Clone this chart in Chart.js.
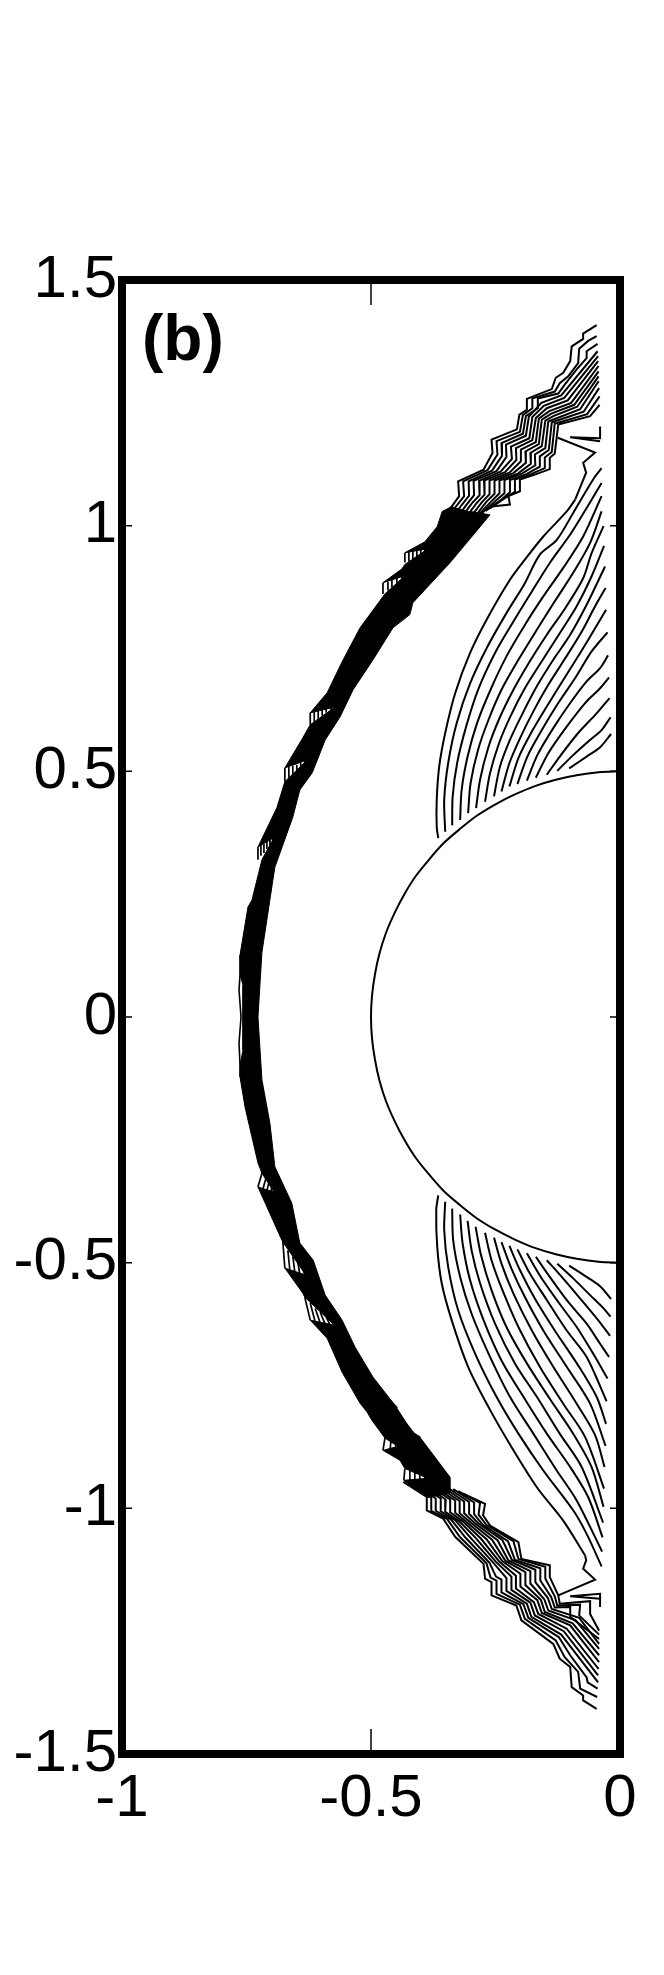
<!DOCTYPE html>
<html>
<head>
<meta charset="utf-8">
<style>
  body { margin: 0; background: #fff; }
  canvas { display: block; }
</style>
<script src="https://cdn.jsdelivr.net/npm/chart.js@4"></script>
</head>
<body>
<canvas id="contourChart" width="664" height="1975"></canvas>
<script>
// ── Data ──────────────────────────────────────────────────────
const xTicks = [-1, -0.5, 0];
const yTicks = [-1.5, -1, -0.5, 0, 0.5, 1, 1.5];
const panelLabel = '(b)';

// body surface
const bodyCircle = [
  [0,.5],[-.043,.498],[-.087,.492],[-.129,.483],[-.171,.47],[-.211,.453],[-.25,.433],[-.287,.41],[-.321,.383],[-.354,.354],
  [-.383,.321],[-.41,.287],[-.433,.25],[-.453,.211],[-.47,.171],[-.483,.129],[-.492,.087],[-.498,.043],[-.5,0],
  [-.498,-.043],[-.492,-.087],[-.483,-.129],[-.47,-.171],[-.453,-.211],[-.433,-.25],[-.41,-.287],[-.383,-.321],[-.354,-.354],
  [-.321,-.383],[-.287,-.41],[-.25,-.433],[-.211,-.453],[-.171,-.47],[-.129,-.483],[-.087,-.492],[-.043,-.498],[0,-.5]
];

// merged part of the shock, where the contours run together
const shockBand = [
  [-.337,1.039],[-.357,1.029],[-.367,.998],[-.392,.967],[-.432,.945],[-.386,.953],[-.432,.921],[-.438,.912],[-.476,.884],[-.432,.898],
  [-.472,.861],[-.522,.792],[-.558,.723],[-.588,.66],[-.622,.619],[-.572,.631],[-.622,.595],[-.637,.568],[-.673,.507],[-.628,.523],
  [-.673,.479],[-.689,.426],[-.727,.346],[-.695,.365],[-.719,.32],[-.739,.238],[-.747,.224],[-.763,.126],[-.763,.086],[-.757,.065],
  [-.757,-.067],[-.763,-.098],[-.763,-.122],[-.753,-.183],[-.727,-.297],[-.719,-.318],[-.695,-.356],[-.727,-.346],[-.679,-.454],[-.677,-.458],
  [-.631,-.525],[-.673,-.511],[-.637,-.562],[-.633,-.57],[-.574,-.627],[-.622,-.617],[-.588,-.654],[-.558,-.723],[-.522,-.786],[-.508,-.804],
  [-.498,-.821],[-.472,-.857],[-.446,-.874],[-.476,-.882],[-.442,-.902],[-.432,-.919],[-.386,-.939],[-.434,-.943],[-.386,-.978],[-.341,-.969],
  [-.341,-.937],[-.402,-.855],[-.416,-.847],[-.452,-.79],[-.496,-.733],[-.532,-.672],[-.558,-.617],[-.592,-.566],[-.616,-.495],[-.643,-.46],
  [-.659,-.379],[-.693,-.305],[-.703,-.216],[-.719,-.128],[-.727,0],[-.719,.132],[-.697,.279],[-.693,.305],[-.657,.407],[-.643,.462],
  [-.618,.497],[-.592,.564],[-.562,.611],[-.536,.666],[-.496,.727],[-.456,.792],[-.422,.819],[-.416,.843],[-.341,.925],[-.261,1.022],[-.301,1.029]
];
const shockNose = [[-.763,.086],[-.765,.055],[-.761,0],[-.765,-.053],[-.763,-.098]];
const shockStray = [[-.462,-.78],[-.448,-.794],[-.45,-.8],[-.414,-.847],[-.402,-.855],[-.404,-.863],[-.361,-.922]];

// short contour pieces showing through at the kinks of the shock
const kinkTicks = [
  [[-.432,.945],[-.432,.925]],[[-.424,.947],[-.424,.927]],[[-.416,.949],[-.416,.929]],[[-.408,.951],[-.408,.933]],[[-.4,.953],[-.4,.935]],[[-.392,.957],[-.392,.939]],
  [[-.476,.884],[-.476,.861]],[[-.466,.886],[-.466,.868]],[[-.458,.89],[-.458,.874]],[[-.448,.894],[-.448,.88]],[[-.438,.896],[-.438,.886]],
  [[-.622,.619],[-.622,.595]],[[-.614,.621],[-.614,.601]],[[-.606,.623],[-.606,.607]],[[-.598,.625],[-.598,.613]],[[-.59,.627],[-.59,.619]],[[-.58,.629],[-.58,.623]],
  [[-.673,.507],[-.673,.479]],[[-.665,.509],[-.665,.487]],[[-.657,.511],[-.657,.493]],[[-.649,.513],[-.649,.501]],[[-.641,.517],[-.641,.507]],[[-.633,.521],[-.633,.515]],
  [[-.727,.346],[-.727,.32]],[[-.721,.35],[-.721,.328]],[[-.715,.352],[-.715,.334]],[[-.709,.356],[-.709,.342]],[[-.703,.36],[-.703,.35]],[[-.697,.365],[-.697,.358]],
  [[-.719,-.318],[-.727,-.346]],[[-.711,-.328],[-.717,-.35]],[[-.705,-.336],[-.709,-.354]],[[-.699,-.344],[-.701,-.356]],
  [[-.677,-.458],[-.673,-.511]],[[-.667,-.475],[-.663,-.515]],[[-.657,-.487],[-.653,-.519]],[[-.647,-.499],[-.643,-.523]],[[-.637,-.511],[-.633,-.525]],
  [[-.633,-.57],[-.622,-.617]],[[-.622,-.582],[-.612,-.621]],[[-.612,-.593],[-.602,-.623]],[[-.602,-.601],[-.592,-.625]],[[-.59,-.611],[-.582,-.627]],
  [[-.472,-.857],[-.476,-.882]],[[-.46,-.862],[-.462,-.886]],[[-.45,-.87],[-.452,-.89]],
  [[-.432,-.919],[-.434,-.943]],[[-.422,-.923],[-.422,-.943]],[[-.412,-.927],[-.412,-.943]],[[-.402,-.931],[-.402,-.943]],[[-.392,-.935],[-.392,-.943]]
];

// separated contours, upper tip of the shock
const shockTop = [
  [[-.047,1.408],[-.074,1.391],[-.074,1.38],[-.097,1.365],[-.1,1.335],[-.114,1.311],[-.129,1.301],[-.137,1.278],[-.187,1.258],[-.187,1.236],[-.202,1.226],[-.207,1.196],[-.258,1.175],[-.256,1.148],[-.274,1.114],[-.325,1.09],[-.323,1.06],[-.338,1.039],[-.35,1.025]],
  [[-.047,1.386],[-.064,1.376],[-.082,1.36],[-.084,1.331],[-.104,1.304],[-.121,1.29],[-.131,1.273],[-.176,1.259],[-.176,1.239],[-.195,1.225],[-.201,1.191],[-.248,1.172],[-.246,1.145],[-.266,1.113],[-.315,1.09],[-.313,1.06],[-.328,1.041],[-.342,1.022]],
  [[-.045,1.37],[-.067,1.355],[-.067,1.341],[-.087,1.318],[-.111,1.287],[-.124,1.269],[-.165,1.259],[-.165,1.239],[-.189,1.223],[-.195,1.187],[-.238,1.168],[-.237,1.142],[-.257,1.112],[-.304,1.09],[-.303,1.061],[-.318,1.042],[-.334,1.02]],
  [[-.045,1.355],[-.118,1.265],[-.158,1.25],[-.183,1.222],[-.189,1.183],[-.229,1.165],[-.228,1.14],[-.248,1.111],[-.294,1.091],[-.293,1.062],[-.308,1.043],[-.326,1.018]],
  [[-.044,1.345],[-.112,1.26],[-.153,1.244],[-.176,1.221],[-.182,1.178],[-.219,1.161],[-.217,1.136],[-.24,1.11],[-.283,1.091],[-.282,1.062],[-.298,1.045],[-.318,1.017]],
  [[-.044,1.335],[-.105,1.255],[-.147,1.239],[-.169,1.219],[-.176,1.174],[-.209,1.158],[-.208,1.134],[-.231,1.109],[-.273,1.092],[-.272,1.063],[-.288,1.046],[-.31,1.016]],
  [[-.043,1.325],[-.098,1.25],[-.142,1.233],[-.163,1.218],[-.169,1.17],[-.199,1.155],[-.199,1.131],[-.222,1.108],[-.262,1.092],[-.262,1.064],[-.278,1.047],[-.302,1.015]],
  [[-.043,1.314],[-.092,1.246],[-.138,1.228],[-.157,1.216],[-.163,1.166],[-.19,1.151],[-.189,1.128],[-.214,1.107],[-.252,1.092],[-.252,1.065],[-.268,1.049],[-.294,1.015]],
  [[-.043,1.304],[-.086,1.242],[-.134,1.223],[-.15,1.214],[-.157,1.162],[-.18,1.148],[-.179,1.126],[-.205,1.106],[-.242,1.092],[-.242,1.066],[-.258,1.05],[-.286,1.02]],
  [[-.043,1.294],[-.08,1.237],[-.131,1.217],[-.144,1.212],[-.15,1.158],[-.171,1.145],[-.17,1.123],[-.197,1.106],[-.232,1.093],[-.232,1.066],[-.248,1.052],[-.278,1.025]],
  [[-.042,1.28],[-.073,1.232],[-.129,1.213],[-.137,1.21],[-.143,1.154],[-.161,1.141],[-.161,1.12],[-.188,1.105],[-.221,1.093],[-.221,1.068],[-.238,1.053],[-.27,1.03]],
  [[-.041,1.263],[-.066,1.227],[-.126,1.209],[-.131,1.208],[-.137,1.15],[-.151,1.139],[-.151,1.117],[-.179,1.105],[-.211,1.094],[-.211,1.069],[-.231,1.056],[-.262,1.035]],
  [[-.041,1.246],[-.06,1.223],[-.124,1.206],[-.131,1.147],[-.141,1.138],[-.141,1.115],[-.171,1.104],[-.201,1.094],[-.201,1.07],[-.224,1.06],[-.221,1.043],[-.258,1.039]]
];
const stubTop = [[-.04,1.202],[-.04,1.178],[-.1,1.18],[-.04,1.172]];

// separated contours, lower tip of the shock
const shockBottom = [
  [[-.435,-.946],[-.388,-.977],[-.388,-1.004],[-.355,-1.021],[-.331,-1.058],[-.274,-1.113],[-.271,-1.143],[-.258,-1.15],[-.258,-1.177],[-.208,-1.198],[-.198,-1.228],[-.134,-1.276],[-.121,-1.306],[-.1,-1.323],[-.097,-1.364],[-.074,-1.381],[-.074,-1.391],[-.047,-1.408]],
  [[-.425,-.948],[-.379,-.978],[-.379,-1.005],[-.347,-1.022],[-.321,-1.059],[-.268,-1.112],[-.26,-1.141],[-.248,-1.147],[-.248,-1.174],[-.201,-1.196],[-.191,-1.225],[-.129,-1.269],[-.111,-1.303],[-.084,-1.333],[-.08,-1.367],[-.046,-1.384]],
  [[-.415,-.949],[-.37,-.98],[-.37,-1.005],[-.339,-1.023],[-.31,-1.06],[-.262,-1.111],[-.249,-1.139],[-.238,-1.145],[-.238,-1.171],[-.194,-1.195],[-.184,-1.223],[-.123,-1.262],[-.1,-1.299],[-.067,-1.344],[-.065,-1.354],[-.045,-1.367]],
  [[-.405,-.95],[-.36,-.98],[-.36,-1.006],[-.331,-1.024],[-.3,-1.06],[-.255,-1.11],[-.228,-1.142],[-.228,-1.168],[-.187,-1.194],[-.178,-1.221],[-.118,-1.257],[-.044,-1.354]],
  [[-.395,-.952],[-.35,-.982],[-.351,-1.007],[-.323,-1.026],[-.289,-1.061],[-.249,-1.109],[-.218,-1.139],[-.218,-1.166],[-.18,-1.192],[-.171,-1.218],[-.113,-1.25],[-.044,-1.34]],
  [[-.385,-.953],[-.341,-.982],[-.341,-1.008],[-.315,-1.027],[-.279,-1.062],[-.242,-1.109],[-.209,-1.137],[-.209,-1.163],[-.173,-1.191],[-.164,-1.215],[-.107,-1.245],[-.043,-1.327]],
  [[-.375,-.955],[-.331,-.984],[-.331,-1.009],[-.308,-1.028],[-.268,-1.063],[-.236,-1.108],[-.2,-1.133],[-.2,-1.159],[-.166,-1.187],[-.157,-1.213],[-.1,-1.238],[-.042,-1.313]],
  [[-.365,-.956],[-.322,-.985],[-.322,-1.01],[-.3,-1.029],[-.257,-1.064],[-.23,-1.107],[-.19,-1.13],[-.19,-1.156],[-.159,-1.186],[-.151,-1.211],[-.095,-1.234],[-.042,-1.299]],
  [[-.355,-.957],[-.313,-.986],[-.313,-1.01],[-.292,-1.03],[-.246,-1.065],[-.224,-1.106],[-.18,-1.128],[-.18,-1.153],[-.152,-1.185],[-.144,-1.208],[-.089,-1.228],[-.042,-1.286]],
  [[-.345,-.959],[-.303,-.987],[-.303,-1.011],[-.284,-1.031],[-.236,-1.065],[-.217,-1.105],[-.17,-1.125],[-.17,-1.15],[-.145,-1.182],[-.137,-1.205],[-.082,-1.223],[-.042,-1.276]],
  [[-.335,-.961],[-.293,-.988],[-.293,-1.012],[-.276,-1.033],[-.225,-1.067],[-.211,-1.105],[-.16,-1.122],[-.16,-1.147],[-.138,-1.181],[-.131,-1.202],[-.1,-1.201],[-.1,-1.221],[-.042,-1.266]],
  [[-.325,-.965],[-.281,-.989],[-.284,-1.013],[-.268,-1.034],[-.214,-1.067],[-.204,-1.103],[-.15,-1.119],[-.15,-1.143],[-.131,-1.179],[-.126,-1.198],[-.08,-1.196],[-.082,-1.218],[-.042,-1.257]],
  [[-.315,-.97],[-.271,-.991],[-.275,-1.014],[-.261,-1.035],[-.204,-1.069],[-.198,-1.103],[-.141,-1.116],[-.141,-1.14],[-.124,-1.177],[-.121,-1.194],[-.06,-1.189],[-.06,-1.215],[-.042,-1.249]]
];
const stubBottom = [[-.04,-1.201],[-.04,-1.174],[-.1,-1.179],[-.04,-1.184]];

// fan of contours behind the shock, above the body
const fanTop = [
  [[-.365,.364],[-.368,.387],[-.368,.442],[-.363,.51],[-.351,.578],[-.331,.659],[-.301,.741],[-.266,.812],[-.221,.89],[-.191,.931],[-.154,.978],[-.107,1.029],[-.09,1.053]],
  [[-.351,.377],[-.353,.442],[-.345,.517],[-.328,.598],[-.301,.679],[-.266,.754],[-.228,.822],[-.191,.883],[-.161,.941],[-.127,.971],[-.094,1.026],[-.054,1.094],[-.037,1.117]],
  [[-.337,.39],[-.336,.449],[-.327,.517],[-.309,.591],[-.285,.666],[-.251,.741],[-.214,.805],[-.177,.866],[-.141,.924],[-.1,.982],[-.067,1.036],[-.037,1.087]],
  [[-.321,.401],[-.318,.462],[-.306,.53],[-.287,.598],[-.26,.666],[-.228,.734],[-.191,.798],[-.154,.856],[-.114,.914],[-.074,.978],[-.037,1.06]],
  [[-.305,.415],[-.3,.476],[-.285,.544],[-.264,.605],[-.238,.666],[-.204,.727],[-.167,.788],[-.131,.846],[-.094,.904],[-.06,.965],[-.037,1.029]],
  [[-.289,.425],[-.281,.483],[-.264,.55],[-.242,.608],[-.214,.666],[-.181,.724],[-.147,.778],[-.11,.832],[-.074,.893],[-.057,.944],[-.033,.999]],
  [[-.271,.438],[-.261,.496],[-.243,.557],[-.22,.612],[-.191,.669],[-.157,.724],[-.121,.781],[-.087,.836],[-.057,.897],[-.032,.959]],
  [[-.253,.449],[-.241,.51],[-.221,.564],[-.197,.615],[-.167,.673],[-.134,.727],[-.1,.778],[-.067,.839],[-.03,.917]],
  [[-.238,.459],[-.222,.517],[-.199,.571],[-.174,.622],[-.144,.676],[-.11,.73],[-.077,.784],[-.05,.836],[-.029,.873]],
  [[-.222,.469],[-.204,.527],[-.177,.581],[-.147,.632],[-.114,.686],[-.08,.741],[-.05,.791],[-.028,.829]],
  [[-.206,.474],[-.186,.53],[-.157,.584],[-.124,.639],[-.09,.69],[-.057,.744],[-.025,.783]],
  [[-.187,.481],[-.166,.533],[-.134,.588],[-.1,.639],[-.067,.683],[-.04,.71],[-.024,.736]],
  [[-.169,.487],[-.144,.537],[-.107,.591],[-.07,.639],[-.04,.669],[-.022,.691]],
  [[-.147,.493],[-.121,.53],[-.084,.578],[-.047,.618],[-.021,.649]],
  [[-.126,.501],[-.094,.533],[-.06,.564],[-.037,.584],[-.019,.61]],
  [[-.102,.506],[-.067,.53],[-.04,.549],[-.018,.576]]
];
const fanTopTail = [[-.09,1.053],[-.068,1.108],[-.074,1.128],[-.05,1.149],[-.125,1.179]];

// same fan, below the body
const fanBottom = [
  [[-.365,-.363],[-.369,-.393],[-.367,-.468],[-.358,-.542],[-.338,-.617],[-.305,-.712],[-.264,-.794],[-.218,-.875],[-.167,-.957],[-.114,-1.025],[-.07,-1.096]],
  [[-.351,-.376],[-.353,-.434],[-.345,-.509],[-.325,-.597],[-.291,-.685],[-.248,-.773],[-.204,-.848],[-.154,-.923],[-.094,-1.004],[-.067,-1.052],[-.037,-1.118]],
  [[-.337,-.39],[-.335,-.454],[-.321,-.529],[-.298,-.604],[-.264,-.685],[-.221,-.773],[-.174,-.848],[-.127,-.923],[-.087,-.984],[-.036,-1.088]],
  [[-.321,-.402],[-.316,-.461],[-.301,-.536],[-.274,-.617],[-.238,-.699],[-.194,-.773],[-.147,-.848],[-.1,-.916],[-.064,-.977],[-.035,-1.059]],
  [[-.306,-.415],[-.298,-.475],[-.281,-.542],[-.251,-.624],[-.211,-.705],[-.167,-.773],[-.121,-.848],[-.077,-.916],[-.034,-1.029]],
  [[-.29,-.427],[-.279,-.485],[-.258,-.556],[-.228,-.631],[-.187,-.705],[-.141,-.777],[-.094,-.848],[-.057,-.916],[-.033,-.997]],
  [[-.271,-.439],[-.258,-.495],[-.236,-.556],[-.204,-.631],[-.161,-.712],[-.114,-.787],[-.07,-.855],[-.032,-.96]],
  [[-.253,-.449],[-.238,-.502],[-.214,-.563],[-.177,-.638],[-.134,-.712],[-.087,-.787],[-.05,-.851],[-.031,-.916]],
  [[-.238,-.458],[-.218,-.512],[-.191,-.57],[-.154,-.638],[-.107,-.712],[-.06,-.787],[-.029,-.873]],
  [[-.222,-.466],[-.201,-.515],[-.171,-.573],[-.131,-.638],[-.084,-.709],[-.047,-.773],[-.028,-.828]],
  [[-.206,-.473],[-.181,-.522],[-.147,-.576],[-.107,-.638],[-.067,-.692],[-.027,-.782]],
  [[-.187,-.481],[-.161,-.526],[-.124,-.58],[-.087,-.631],[-.054,-.685],[-.025,-.736]],
  [[-.169,-.488],[-.141,-.529],[-.104,-.58],[-.067,-.624],[-.04,-.665],[-.022,-.692]],
  [[-.147,-.495],[-.117,-.529],[-.08,-.573],[-.044,-.617],[-.02,-.649]],
  [[-.126,-.502],[-.094,-.532],[-.06,-.566],[-.033,-.593],[-.019,-.61]],
  [[-.102,-.506],[-.067,-.529],[-.04,-.548],[-.018,-.574]]
];
const fanBottomTail = [[-.07,-1.096],[-.068,-1.106],[-.074,-1.123],[-.05,-1.145],[-.124,-1.177]];

// ── Datasets ──────────────────────────────────────────────────
const contour = (data, tension = 0, borderWidth = 2) => ({
  data,
  tension,
  borderWidth,
  borderColor: '#000',
  borderJoinStyle: 'miter',
  borderCapStyle: 'butt',
  pointRadius: 0,
  showLine: true,
  fill: false,
});

const datasets = [
  { ...contour(shockBand), backgroundColor: '#000', fill: 'shape', borderWidth: 1 },
  contour(shockNose, 0, 1.6),
  contour(shockStray, 0, 1.4),
  ...kinkTicks.map(d => contour(d, 0, 1.7)),
  ...shockTop.map(d => contour(d)),
  ...shockBottom.map(d => contour(d)),
  contour(stubTop),
  contour(stubBottom),
  ...fanTop.map(d => contour(d, 0.3)),
  ...fanBottom.map(d => contour(d, 0.3)),
  contour(fanTopTail),
  contour(fanBottomTail),
  contour(bodyCircle, 0.3),
];

// ── Frame, inner ticks and panel label ────────────────────────
const framePlugin = {
  id: 'frame',
  afterDatasetsDraw(chart) {
    const { ctx, chartArea: a, scales: { x, y } } = chart;
    ctx.save();
    ctx.strokeStyle = '#000';
    ctx.lineWidth = 1.5;
    ctx.beginPath();
    xTicks.forEach(v => {
      const px = x.getPixelForValue(v);
      ctx.moveTo(px, a.top); ctx.lineTo(px, a.top + 25);
      ctx.moveTo(px, a.bottom); ctx.lineTo(px, a.bottom - 25);
    });
    yTicks.forEach(v => {
      const py = y.getPixelForValue(v);
      ctx.moveTo(a.left, py); ctx.lineTo(a.left + 10, py);
      ctx.moveTo(a.right, py); ctx.lineTo(a.right - 10, py);
    });
    ctx.stroke();

    ctx.lineWidth = 8;
    ctx.lineJoin = 'miter';
    ctx.strokeRect(a.left, a.top, a.right - a.left, a.bottom - a.top);

    ctx.fillStyle = '#000';
    ctx.font = 'bold 64px "Liberation Sans"';
    ctx.textAlign = 'left';
    ctx.textBaseline = 'alphabetic';
    ctx.fillText(panelLabel, 142, 360);
    ctx.restore();
  }
};

// ── Chart ─────────────────────────────────────────────────────
const tickFont = { family: '"Liberation Sans"', size: 60 };

new Chart(document.getElementById('contourChart'), {
  type: 'scatter',
  data: { datasets },
  plugins: [framePlugin],
  options: {
    responsive: false,
    animation: false,
    layout: { padding: { top: 280, right: 44, left: 0, bottom: 0 } },
    plugins: { legend: { display: false }, tooltip: { enabled: false } },
    scales: {
      x: {
        min: -1,
        max: 0,
        afterFit: s => { s.height = 221; },
        afterBuildTicks: s => { s.ticks = xTicks.map(value => ({ value })); },
        grid: { display: false },
        border: { display: false },
        ticks: { color: '#000', font: tickFont, padding: 1, maxRotation: 0, autoSkip: false, callback: v => String(v) }
      },
      y: {
        min: -1.5,
        max: 1.5,
        afterFit: s => { s.width = 122; },
        afterBuildTicks: s => { s.ticks = yTicks.map(value => ({ value })); },
        grid: { display: false },
        border: { display: false },
        ticks: { color: '#000', font: tickFont, padding: -3, autoSkip: false, callback: v => String(v) }
      }
    }
  }
});
</script>
</body>
</html>
